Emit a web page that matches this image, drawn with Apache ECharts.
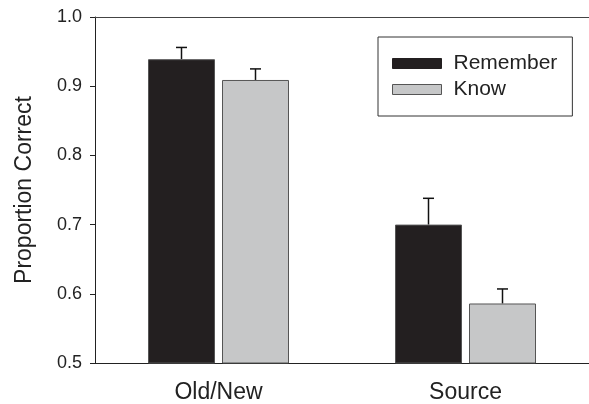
<!DOCTYPE html>
<html>
<head>
<meta charset="utf-8">
<script src="https://cdn.jsdelivr.net/npm/echarts@6/dist/echarts.min.js"></script>
<style>html,body{margin:0;padding:0;background:#fff}#c{width:589px;height:404px}</style>
</head>
<body>
<div id="c"></div>
<script>
var categories = ['Old/New', 'Source'];
var remember = [0.939, 0.700];
var rememberErr = [0.017, 0.038];
var know = [0.909, 0.586];
var knowErr = [0.016, 0.021];
var yTicks = [0.5, 0.6, 0.7, 0.8, 0.9, 1.0];

var FONT = '"Liberation Sans", Arial, sans-serif';
var BAR_W = 67, GAP = 7;

function errSeries(name, vals, errs, sign) {
  return {
    type: 'custom',
    name: name + ' err',
    z: 1,
    silent: true,
    data: vals.map(function (v, i) { return [i, v, v + errs[i]]; }),
    renderItem: function (params, api) {
      var off = sign * (BAR_W + GAP) / 2;
      var p0 = api.coord([api.value(0), api.value(1)]);
      var p1 = api.coord([api.value(0), api.value(2)]);
      var x = p0[0] + off;
      var st = { stroke: '#111', lineWidth: 1.5 };
      return {
        type: 'group',
        children: [
          { type: 'line', shape: { x1: x, y1: p0[1], x2: x, y2: p1[1] }, style: st },
          { type: 'line', shape: { x1: x - 5.5, y1: p1[1], x2: x + 5.5, y2: p1[1] }, style: st }
        ]
      };
    }
  };
}

var chart = echarts.init(document.getElementById('c'), null, { renderer: 'canvas' });
chart.setOption({
  animation: false,
  backgroundColor: '#fff',
  textStyle: { fontFamily: FONT },
  grid: { left: 95, right: 0, top: 17, bottom: 41, show: false },
  legend: {
    orient: 'vertical',
    left: 378, top: 37,
    padding: [16, 15, 16, 14],
    borderColor: '#333', borderWidth: 1,
    icon: 'rect',
    itemWidth: 49, itemHeight: 10, itemGap: 5,
    textStyle: { fontFamily: FONT, fontSize: 21, color: '#222', padding: [0, 0, 0, 7] },
    data: [
      { name: 'Remember', itemStyle: { color: '#231f20', borderColor: '#231f20', borderWidth: 1 } },
      { name: 'Know', itemStyle: { color: '#c6c7c8', borderColor: '#555', borderWidth: 1 } }
    ]
  },
  xAxis: [{
    type: 'category',
    data: categories,
    axisLine: { lineStyle: { color: '#222', width: 1 } },
    axisTick: { alignWithLabel: true, length: 5, lineStyle: { color: '#222' } },
    axisLabel: { fontFamily: FONT, fontSize: 23, color: '#222', margin: 18 }
  }, {
    type: 'category',
    position: 'top',
    data: categories,
    axisLine: { show: true, lineStyle: { color: '#444', width: 1 } },
    axisTick: { show: false },
    axisLabel: { show: false }
  }],
  yAxis: {
    type: 'value',
    min: yTicks[0], max: yTicks[yTicks.length - 1], interval: 0.1,
    name: 'Proportion Correct',
    nameLocation: 'middle',
    nameGap: 59,
    nameTextStyle: { fontFamily: FONT, fontSize: 23, color: '#222' },
    splitLine: { show: false },
    axisLine: { show: true, lineStyle: { color: '#222', width: 1 } },
    axisTick: { show: true, length: 5, lineStyle: { color: '#222' } },
    axisLabel: { fontFamily: FONT, fontSize: 18, color: '#222', margin: 13,
      formatter: function (v) { return v.toFixed(1); } }
  },
  series: [
    { type: 'bar', name: 'Remember', data: remember, barWidth: BAR_W, barGap: (GAP / BAR_W * 100) + '%',
      itemStyle: { color: '#231f20', borderColor: '#555', borderWidth: 1 }, z: 2 },
    { type: 'bar', name: 'Know', data: know, barWidth: BAR_W,
      itemStyle: { color: '#c6c7c8', borderColor: '#555', borderWidth: 1 }, z: 2 },
    errSeries('Remember', remember, rememberErr, -1),
    errSeries('Know', know, knowErr, 1)
  ]
});
</script>
</body>
</html>
